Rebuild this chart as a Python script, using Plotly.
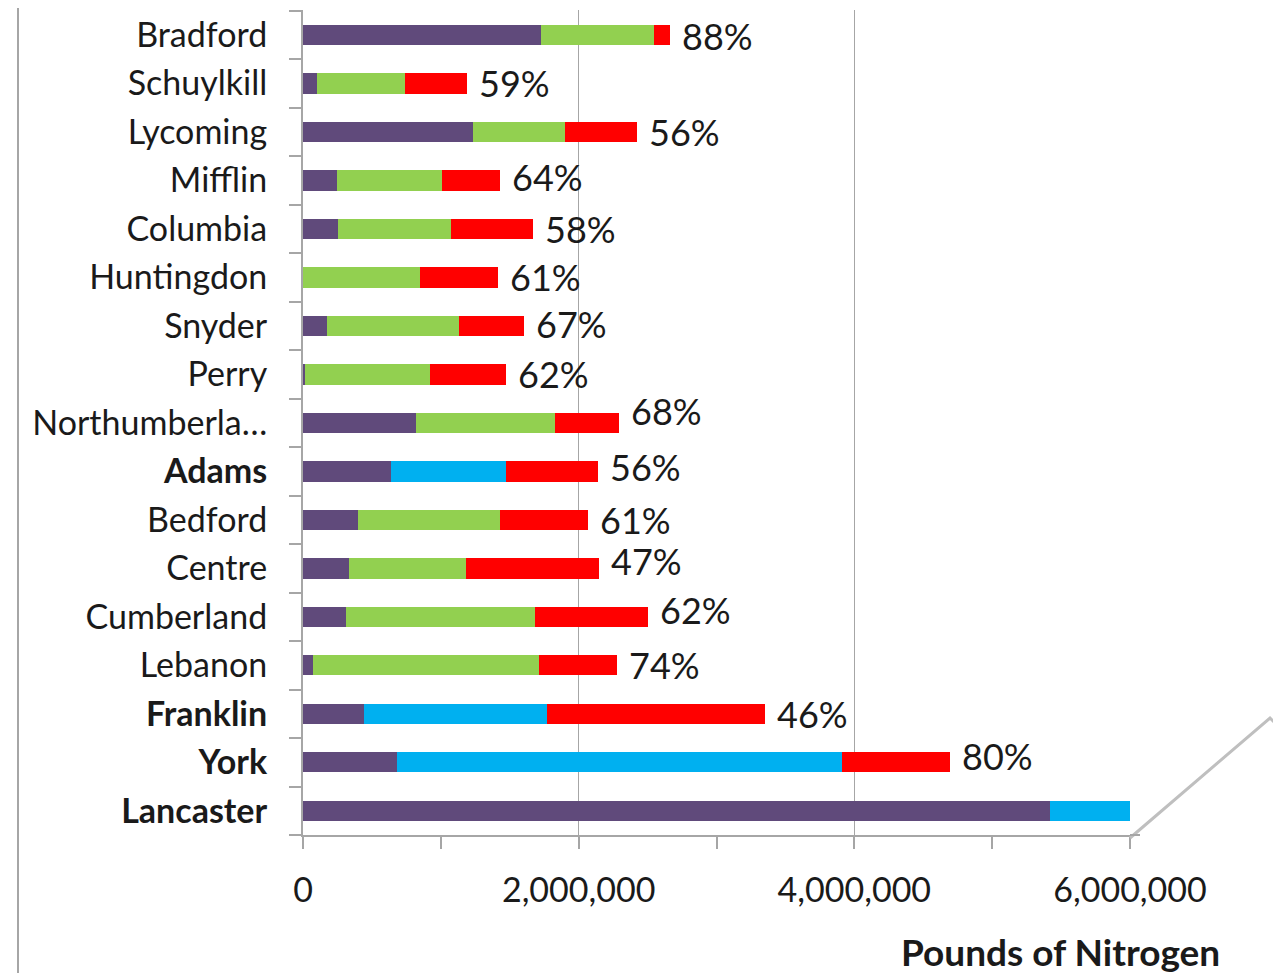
import plotly.graph_objects as go

counties = ["Bradford", "Schuylkill", "Lycoming", "Mifflin", "Columbia", "Huntingdon",
            "Snyder", "Perry", "Northumberla…", "Adams", "Bedford", "Centre",
            "Cumberland", "Lebanon", "Franklin", "York", "Lancaster"]
purple_vals = [1729000, 101000, 1234000, 244000, 257000, 0, 172000, 15000, 823000,
               642000, 399000, 331000, 315000, 75000, 445000, 684000, 5420000]
green_vals = [820000, 639000, 664000, 764000, 818000, 852000, 962000, 906000, 1004000,
              0, 1032000, 848000, 1369000, 1638000, 0, 0, 0]
blue_vals = [0, 0, 0, 0, 0, 0, 0, 0, 0,
             832000, 0, 0, 0, 0, 1327000, 3224000, 580000]
red_vals = [112000, 449000, 524000, 421000, 597000, 564000, 466000, 553000, 469000,
            664000, 636000, 972000, 819000, 567000, 1578000, 789000, 0]
pct_labels = ["88%", "59%", "56%", "64%", "58%", "61%", "67%", "62%", "68%",
              "56%", "61%", "47%", "62%", "74%", "46%", "80%", ""]
x_tickvals = [0, 2000000, 4000000, 6000000]
x_ticktext = ["0", "2,000,000", "4,000,000", "6,000,000"]

# small manual vertical nudges of the percent labels (pixels, up = positive)
label_nudge = {"Mifflin": 3, "Northumberla…": 12, "Adams": 4, "Centre": 7,
               "Cumberland": 7, "Snyder": 2, "York": 6, "Bradford": -1}

FONT = "Lato"
TXT = "#1a1a1a"

fig = go.Figure()
series = [(purple_vals, "#604a7b"), (green_vals, "#92d050"),
          (blue_vals, "#00b0f0"), (red_vals, "#ff0000")]
for vals, col in series:
    fig.add_trace(go.Bar(y=counties, x=vals, orientation="h",
                         marker=dict(color=col, line=dict(width=0)),
                         showlegend=False))

totals = [p + g + b + r for p, g, b, r in zip(purple_vals, green_vals, blue_vals, red_vals)]
for c, t, lab in zip(counties, totals, pct_labels):
    if lab:
        fig.add_annotation(x=t, y=c, text=lab, showarrow=False, xanchor="left",
                           xshift=10, yshift=label_nudge.get(c, 0),
                           font=dict(family=FONT, size=36, color=TXT))

bold = {c for c, b in zip(counties, blue_vals) if b > 0}
ticktext = [f"<b>{c}</b>" if c in bold else c for c in counties]

# page body has an 8px margin; coordinates below are window pixels
OFF = 8
W, H = 1281 - OFF, 973 - OFF
L, T = 303 - OFF, 10 - OFF
R = W - (1130 - OFF)
B = H - (835 - OFF)
pw, ph = W - L - R, H - T - B

def px(x):
    return (x - OFF - L) / pw

def py(y):
    return (H - B - (y - OFF)) / ph

fig.update_layout(
    width=W, height=H,
    margin=dict(l=L, r=R, t=T, b=B),
    barmode="stack", bargap=0.58,
    plot_bgcolor="white", paper_bgcolor="white",
    font=dict(family=FONT, size=34, color=TXT),
    xaxis=dict(range=[0, 6000000], tickvals=x_tickvals, ticktext=x_ticktext,
               showgrid=True, gridcolor="#a6a6a6", gridwidth=1,
               showline=True, linecolor="#a6a6a6", linewidth=2,
               ticks="outside", ticklen=12, tickcolor="#a6a6a6", tickwidth=2,
               minor=dict(dtick=1000000, tick0=0, ticks="outside", ticklen=12,
                          tickcolor="#a6a6a6", tickwidth=2, showgrid=False),
               ticklabelstandoff=12, zeroline=False,
               tickfont=dict(family=FONT, size=34, color=TXT)),
    yaxis=dict(type="category", autorange="reversed", tickvals=counties, ticktext=ticktext,
               tickson="boundaries", ticks="outside", ticklen=12, tickcolor="#a6a6a6",
               tickwidth=2, showgrid=False, showline=True, linecolor="#a6a6a6",
               linewidth=2, ticklabelstandoff=27,
               tickfont=dict(family=FONT, size=34, color=TXT)),
)

fig.add_annotation(xref="paper", yref="paper", x=px(1222), y=py(951), xanchor="right",
                   yanchor="middle", text="<b>Pounds of Nitrogen</b>", showarrow=False,
                   font=dict(family=FONT, size=37, color=TXT))

fig.add_shape(type="line", xref="paper", yref="paper", x0=px(18), x1=px(18),
              y0=py(8), y1=py(973), line=dict(color="#a6a6a6", width=2))
fig.add_shape(type="path", xref="paper", yref="paper",
              path=f"M {px(1130)} {py(838)} L {px(1270)} {py(718)} L {px(1290)} {py(738)}",
              line=dict(color="#bfbfbf", width=3))
fig.add_shape(type="line", xref="paper", yref="paper", x0=px(1130), x1=px(1140),
              y0=py(835), y1=py(835), line=dict(color="#a6a6a6", width=2))

fig.write_html("out.html")
